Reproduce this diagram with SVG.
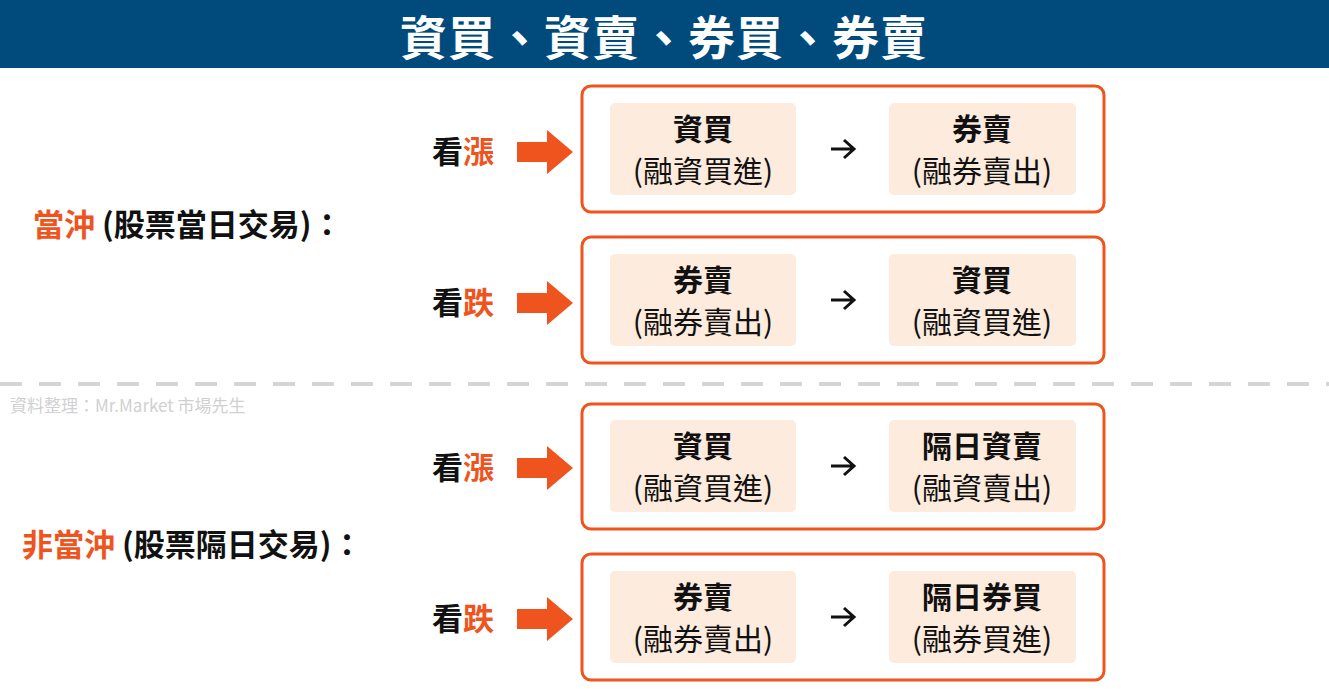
<svg xmlns="http://www.w3.org/2000/svg" width="1329" height="696" viewBox="0 0 1329 696">
<style>
text{font-family:"Noto Sans CJK TC","Noto Sans CJK SC",sans-serif}
.o{fill:#fff;stroke:#F0541E;stroke-width:3}
.i{fill:#FDEBDD}
.t{font-size:30px;font-weight:700;fill:#111;text-anchor:middle}
.s{font-size:30px;fill:#111;text-anchor:middle}
.k{font-size:31px;font-weight:700;fill:#111}
.r{fill:#F0541E}
.lab{font-size:31px;font-weight:700;fill:#111}
</style>
<defs>
<path id="ba" d="M0,-10 H30 V-22 L56,0 L30,22 V10 H0 Z" fill="#F0541E"/>
<path id="sa" d="M0,0 H22 M13,-9 L23,0 L13,9" fill="none" stroke="#111" stroke-width="3"/>
</defs>
<rect x="0" y="0" width="1329" height="68" fill="#004A7C"/>
<text x="664" y="55" font-size="47" font-weight="700" fill="#fff" text-anchor="middle" letter-spacing="1">資買、資賣、券買、券賣</text>
<line x1="0" y1="384" x2="1329" y2="384" stroke="#D5D5D5" stroke-width="4" stroke-dasharray="22 17"/>
<text x="10" y="412" font-size="17" fill="#D0D0D0">資料整理：Mr.Market 市場先生</text>
<text x="33" y="236" class="lab"><tspan class="r">當沖</tspan> (股票當日交易)：</text>
<text x="22" y="556" class="lab"><tspan class="r">非當沖</tspan> (股票隔日交易)：</text>
<g id="row1">
<text x="432" y="163" class="k">看<tspan class="r">漲</tspan></text>
<use href="#ba" x="517" y="152"/>
<rect class="o" x="582" y="86" width="522" height="126" rx="9"/>
<rect class="i" x="610" y="103" width="186" height="92" rx="5"/>
<rect class="i" x="889" y="103" width="187" height="92" rx="5"/>
<text x="703" y="140" class="t">資買</text><text x="703" y="182" class="s">(融資買進)</text>
<text x="982" y="140" class="t">券賣</text><text x="982" y="182" class="s">(融券賣出)</text>
<use href="#sa" x="831" y="149"/>
</g>
<g id="row2">
<text x="432" y="314" class="k">看<tspan class="r">跌</tspan></text>
<use href="#ba" x="517" y="303"/>
<rect class="o" x="582" y="237" width="522" height="126" rx="9"/>
<rect class="i" x="610" y="254" width="186" height="92" rx="5"/>
<rect class="i" x="889" y="254" width="187" height="92" rx="5"/>
<text x="703" y="291" class="t">券賣</text><text x="703" y="333" class="s">(融券賣出)</text>
<text x="982" y="291" class="t">資買</text><text x="982" y="333" class="s">(融資買進)</text>
<use href="#sa" x="831" y="300"/>
</g>
<g id="row3">
<text x="432" y="479" class="k">看<tspan class="r">漲</tspan></text>
<use href="#ba" x="517" y="468"/>
<rect class="o" x="582" y="404" width="522" height="125" rx="9"/>
<rect class="i" x="610" y="420" width="186" height="92" rx="5"/>
<rect class="i" x="889" y="420" width="187" height="92" rx="5"/>
<text x="703" y="457" class="t">資買</text><text x="703" y="499" class="s">(融資買進)</text>
<text x="982" y="457" class="t">隔日資賣</text><text x="982" y="499" class="s">(融資賣出)</text>
<use href="#sa" x="831" y="466"/>
</g>
<g id="row4">
<text x="432" y="630" class="k">看<tspan class="r">跌</tspan></text>
<use href="#ba" x="517" y="619"/>
<rect class="o" x="582" y="554" width="522" height="126" rx="9"/>
<rect class="i" x="610" y="571" width="186" height="92" rx="5"/>
<rect class="i" x="889" y="571" width="187" height="92" rx="5"/>
<text x="703" y="608" class="t">券賣</text><text x="703" y="650" class="s">(融券賣出)</text>
<text x="982" y="608" class="t">隔日券買</text><text x="982" y="650" class="s">(融券買進)</text>
<use href="#sa" x="831" y="617"/>
</g>
</svg>
